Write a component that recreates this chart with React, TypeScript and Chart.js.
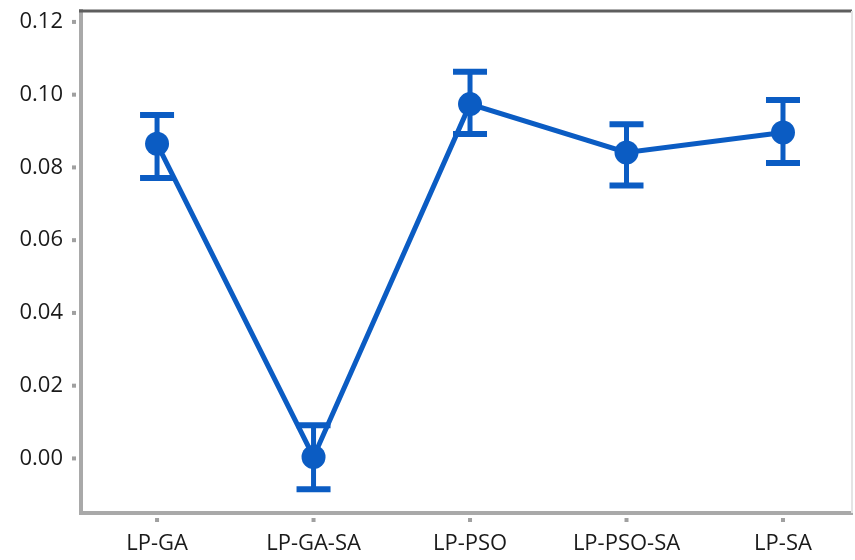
import React, { useEffect, useRef } from "react";
import { Chart, registerables } from "chart.js";

Chart.register(...registerables);

// Methods compared, with mean value and the ends of each error bar
const categories = ["LP-GA", "LP-GA-SA", "LP-PSO", "LP-PSO-SA", "LP-SA"];
const means = [0.0865, 0.0004, 0.0974, 0.0841, 0.0896];
const upper = [0.0944, 0.0091, 0.1063, 0.0919, 0.0985];
const lower = [0.0771, -0.0085, 0.0892, 0.075, 0.0812];
const yTickValues = [0, 0.02, 0.04, 0.06, 0.08, 0.1, 0.12];

const BLUE = "#0b5cc3";
const AXIS_GRAY = "#a9a9a9";
const FONT = "'Open Sans', 'Noto Sans', sans-serif";

// Vertical error bars with flat caps, drawn beneath the line and markers
const errorBars = {
  id: "errorBars",
  beforeDatasetsDraw(chart: any) {
    const { ctx, scales } = chart;
    const xs = scales.x;
    const ys = scales.y;
    ctx.save();
    ctx.strokeStyle = BLUE;
    ctx.lineCap = "butt";
    categories.forEach((_, i) => {
      const x = xs.getPixelForValue(i);
      const yTop = ys.getPixelForValue(upper[i]);
      const yBot = ys.getPixelForValue(lower[i]);
      ctx.lineWidth = 5;
      ctx.beginPath();
      ctx.moveTo(x, yTop);
      ctx.lineTo(x, yBot);
      ctx.stroke();
      ctx.lineWidth = 6;
      ctx.beginPath();
      ctx.moveTo(x - 17, yTop);
      ctx.lineTo(x + 17, yTop);
      ctx.moveTo(x - 17, yBot);
      ctx.lineTo(x + 17, yBot);
      ctx.stroke();
    });
    ctx.restore();
  },
};

// Frame around the plot and the small square tick marks set off from the axes
const frame = {
  id: "frame",
  afterDraw(chart: any) {
    const { ctx, chartArea, scales } = chart;
    const { left, right, top, bottom } = chartArea;
    ctx.save();
    ctx.strokeStyle = "#5e5e5e";
    ctx.lineWidth = 3;
    ctx.beginPath();
    ctx.moveTo(left - 2, top);
    ctx.lineTo(right, top);
    ctx.stroke();
    ctx.strokeStyle = "#e4e4e4";
    ctx.lineWidth = 2;
    ctx.beginPath();
    ctx.moveTo(right, top);
    ctx.lineTo(right, bottom);
    ctx.stroke();

    ctx.fillStyle = "#a0a0a0";
    scales.y.ticks.forEach((t: any) => {
      const y = scales.y.getPixelForValue(t.value);
      ctx.fillRect(left - 9, y - 2, 4, 4);
    });
    scales.x.ticks.forEach((t: any) => {
      const x = scales.x.getPixelForValue(t.value);
      ctx.fillRect(x - 2, bottom + 5, 4, 4);
    });
    ctx.restore();
  },
};

export default function App() {
  const canvasRef = useRef<HTMLCanvasElement | null>(null);

  useEffect(() => {
    if (!canvasRef.current) return;
    const chart = new Chart(canvasRef.current, {
      type: "line",
      data: {
        datasets: [
          {
            data: means.map((v, i) => ({ x: i, y: v })),
            borderColor: BLUE,
            backgroundColor: BLUE,
            borderWidth: 5,
            pointRadius: 12,
            pointBorderWidth: 0,
            pointBackgroundColor: BLUE,
            tension: 0,
            clip: false,
          },
        ],
      },
      options: {
        animation: false,
        responsive: false,
        maintainAspectRatio: false,
        layout: {
          autoPadding: false,
          padding: { top: 11, right: 3, left: 0, bottom: 0 },
        },
        plugins: {
          legend: { display: false },
          tooltip: { enabled: false },
        },
        scales: {
          x: {
            type: "linear",
            min: -0.486,
            max: 4.441,
            afterBuildTicks: (scale: any) => {
              scale.ticks = categories.map((_, i) => ({ value: i }));
            },
            afterFit: (scale: any) => {
              scale.height = 47;
              scale.paddingLeft = 0;
              scale.paddingRight = 0;
            },
            grid: { display: false, drawTicks: false },
            border: { display: true, color: AXIS_GRAY, width: 4 },
            ticks: {
              autoSkip: false,
              maxRotation: 0,
              padding: 18,
              color: "#1a1a1a",
              font: { family: FONT, size: 22 },
              callback: (v: any) => categories[Number(v)] ?? "",
            },
          },
          y: {
            type: "linear",
            min: -0.015,
            max: 0.123,
            afterBuildTicks: (scale: any) => {
              scale.ticks = yTickValues.map((v) => ({ value: v }));
            },
            afterFit: (scale: any) => {
              scale.width = 81;
              scale.paddingTop = 0;
              scale.paddingBottom = 0;
            },
            grid: { display: false, drawTicks: false },
            border: { display: true, color: AXIS_GRAY, width: 4 },
            ticks: {
              padding: 18,
              color: "#1a1a1a",
              font: { family: FONT, size: 22 },
              callback: (v: any) => Number(v).toFixed(2),
            },
          },
        },
      },
      plugins: [errorBars, frame],
    });
    return () => chart.destroy();
  }, []);

  return (
    <div
      style={{
        position: "fixed",
        left: 0,
        top: 0,
        width: 855,
        height: 560,
        background: "#ffffff",
      }}
    >
      <canvas ref={canvasRef} width={855} height={560} />
    </div>
  );
}
